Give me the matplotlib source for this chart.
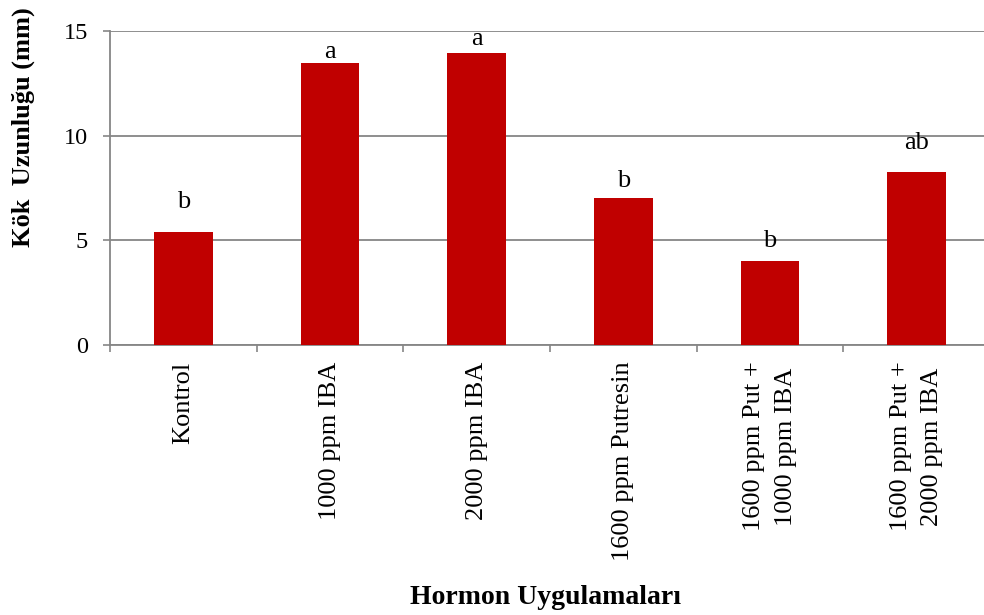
import matplotlib
matplotlib.use("Agg")
import matplotlib.pyplot as plt
import numpy as np

# veriler
uygulamalar = ["Kontrol", "1000 ppm IBA", "2000 ppm IBA", "1600 ppm Putresin",
               "1600 ppm Put +\n1000 ppm IBA", "1600 ppm Put +\n2000 ppm IBA"]
kok_uzunlugu = [5.40, 13.47, 13.95, 7.02, 4.01, 8.27]
harfler = ["b", "a", "a", "b", "b", "ab"]
harf_ofset = [17.3, 3.6, 5.8, 7.9, 10.1, 16.6]  # punto, bar ustunden

plt.rcParams['font.family'] = ['Liberation Serif', 'DejaVu Serif']

fig = plt.figure(figsize=(9.84, 6.15), dpi=100)
ax = fig.add_axes([110 / 984, 1 - 345 / 615, 880 / 984, 314 / 615])

x = np.arange(len(uygulamalar))
ax.bar(x, kok_uzunlugu, width=0.4, color='#C00000', zorder=3)

for xi, val, h, off in zip(x, kok_uzunlugu, harfler, harf_ofset):
    ax.annotate(h, (xi, val), xytext=(0, off), textcoords='offset points',
                ha='center', va='baseline', fontsize=19)

ax.set_ylim(0, 15)
ax.set_xlim(-0.5, len(uygulamalar) - 0.5)
ax.set_yticks([0, 5, 10, 15])
ax.tick_params(axis='y', labelsize=17.5, length=5, width=1.2, color='#868686', pad=11)
ax.grid(axis='y', color='#868686', linewidth=1.3, zorder=0)

# kategori sinirlarinda tik, etiketler ortada
ax.set_xticks(np.arange(-0.5, len(uygulamalar)), minor=False)
ax.set_xticklabels([])
ax.set_xticks(x, minor=True)
etiketler = ax.set_xticklabels(uygulamalar, minor=True, rotation=90, fontsize=19,
                               va='top', ha='center', multialignment='center')
for t in etiketler:
    t.set_linespacing(1.55)
ax.tick_params(axis='x', which='major', length=5, width=1.2, color='#868686')
ax.tick_params(axis='x', which='minor', length=0, pad=12)

for s in ['top', 'right']:
    ax.spines[s].set_visible(False)
ax.spines['left'].set_color('#868686')
ax.spines['left'].set_linewidth(1.3)
ax.spines['bottom'].set_color('#868686')
ax.spines['bottom'].set_linewidth(1.3)

fig.text(23 / 984, 1 - 127 / 615, "Kök  Uzunluğu (mm)", rotation=90,
         ha='center', va='center', fontsize=19, fontweight='bold')
fig.text(545 / 984, 1 - 597 / 615, "Hormon Uygulamaları",
         ha='center', va='center', fontsize=20, fontweight='bold')

fig.savefig("out.png", dpi=100)
